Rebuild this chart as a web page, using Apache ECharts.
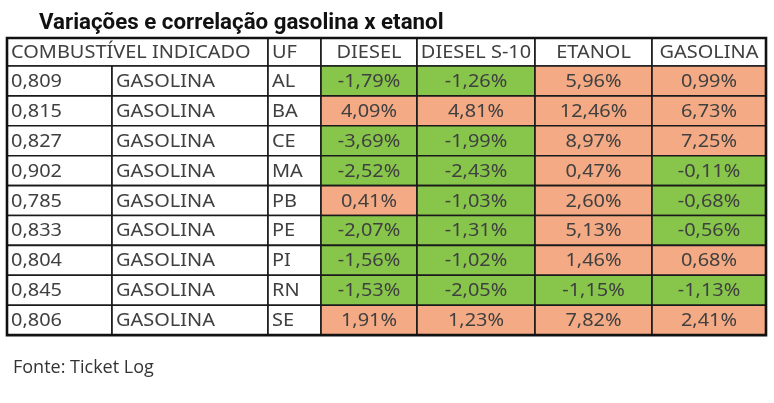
<!DOCTYPE html>
<html>
<head>
<meta charset="utf-8">
<script src="https://cdn.jsdelivr.net/npm/echarts@6/dist/echarts.min.js"></script>
<style>
html,body{margin:0;padding:0;background:#fff;}
#c{width:774px;height:403px;}
</style>
</head>
<body>
<div id="c"></div>
<script>
// ---- data ----
const title = 'Variações e correlação gasolina x etanol';
const source = 'Fonte: Ticket Log';
const headers = ['COMBUSTÍVEL INDICADO', 'UF', 'DIESEL', 'DIESEL S-10', 'ETANOL', 'GASOLINA'];
const ratio = ['0,809', '0,815', '0,827', '0,902', '0,785', '0,833', '0,804', '0,845', '0,806'];
const indicado = ['GASOLINA', 'GASOLINA', 'GASOLINA', 'GASOLINA', 'GASOLINA', 'GASOLINA', 'GASOLINA', 'GASOLINA', 'GASOLINA'];
const uf = ['AL', 'BA', 'CE', 'MA', 'PB', 'PE', 'PI', 'RN', 'SE'];
const diesel = [-1.79, 4.09, -3.69, -2.52, 0.41, -2.07, -1.56, -1.53, 1.91];
const dieselS10 = [-1.26, 4.81, -1.99, -2.43, -1.03, -1.31, -1.02, -2.05, 1.23];
const etanol = [5.96, 12.46, 8.97, 0.47, 2.60, 5.13, 1.46, -1.15, 7.82];
const gasolina = [0.99, 6.73, 7.25, -0.11, -0.68, -0.56, 0.68, -1.13, 2.41];

// ---- layout (table units) ----
const colEdges = [0, 105, 261, 314, 410, 528, 645, 759];
const headerH = 28;
const rowH = 29.9;
const tableH = headerH + rowH * uf.length;
const GREEN = '#87c64b';
const ORANGE = '#f4aa84';
const FONT = 'Noto Sans';
const TEXT_SCALE_X = 1.14;

function fmt(v) {
  return v.toFixed(2).replace('.', ',') + '%';
}

const cells = [];
const cellInfo = [];
function addCell(c0, c1, r, text, align, fill) {
  const y0 = r === 0 ? 0 : headerH + (r - 1) * rowH;
  const y1 = r === 0 ? headerH : headerH + r * rowH;
  cells.push([colEdges[c0], y0, colEdges[c1], y1]);
  cellInfo.push({ text: text, align: align, fill: fill });
}
addCell(0, 2, 0, headers[0], 'left', '#fff');
addCell(2, 3, 0, headers[1], 'left', '#fff');
addCell(3, 4, 0, headers[2], 'center', '#fff');
addCell(4, 5, 0, headers[3], 'center', '#fff');
addCell(5, 6, 0, headers[4], 'center', '#fff');
addCell(6, 7, 0, headers[5], 'center', '#fff');
const valueCols = [diesel, dieselS10, etanol, gasolina];
for (let i = 0; i < uf.length; i++) {
  const r = i + 1;
  addCell(0, 1, r, ratio[i], 'left', '#fff');
  addCell(1, 2, r, indicado[i], 'left', '#fff');
  addCell(2, 3, r, uf[i], 'left', '#fff');
  valueCols.forEach(function (arr, k) {
    addCell(3 + k, 4 + k, r, fmt(arr[i]), 'center', arr[i] < 0 ? GREEN : ORANGE);
  });
}

const chart = echarts.init(document.getElementById('c'), null, { renderer: 'canvas' });
chart.setOption({
  backgroundColor: '#fff',
  animation: false,
  title: [{
    text: title,
    left: 34, top: 7,
    textStyle: { fontFamily: 'Roboto', fontWeight: 'bold', fontSize: 22.3, color: '#111' }
  }, {
    text: source,
    left: 8, top: 354,
    textStyle: { fontFamily: 'Open Sans', fontWeight: 'normal', fontSize: 18, color: '#333' }
  }],
  grid: { left: 7, top: 38, width: colEdges[colEdges.length - 1], height: tableH },
  xAxis: { type: 'value', min: 0, max: colEdges[colEdges.length - 1], show: false },
  yAxis: { type: 'value', min: 0, max: tableH, inverse: true, show: false },
  series: [{
    type: 'custom',
    coordinateSystem: 'cartesian2d',
    data: cells,
    encode: { x: [0, 2], y: [1, 3] },
    renderItem: function (params, api) {
      const p0 = api.coord([api.value(0), api.value(1)]);
      const p1 = api.coord([api.value(2), api.value(3)]);
      const info = cellInfo[params.dataIndex];
      const w = p1[0] - p0[0], h = p1[1] - p0[1];
      return {
        type: 'group',
        children: [{
          type: 'rect',
          shape: { x: p0[0], y: p0[1], width: w, height: h },
          style: { fill: info.fill, stroke: '#1a1a1a', lineWidth: 1.6 }
        }, {
          type: 'text',
          x: info.align === 'left' ? p0[0] + 4 : p0[0] + w / 2,
          y: p0[1] + h / 2 + 1,
          scaleX: TEXT_SCALE_X,
          style: {
            text: info.text,
            x: 0, y: 0,
            align: info.align,
            verticalAlign: 'middle',
            fontFamily: FONT,
            fontSize: 17.5,
            fontWeight: 'normal',
            fill: '#404040'
          }
        }]
      };
    }
  }, {
    type: 'custom',
    coordinateSystem: 'cartesian2d',
    data: [[0, 0, colEdges[colEdges.length - 1], tableH]],
    z: 5,
    renderItem: function (params, api) {
      const p0 = api.coord([api.value(0), api.value(1)]);
      const p1 = api.coord([api.value(2), api.value(3)]);
      return {
        type: 'rect',
        shape: { x: p0[0], y: p0[1], width: p1[0] - p0[0], height: p1[1] - p0[1] },
        style: { fill: 'none', stroke: '#111', lineWidth: 2.6 }
      };
    }
  }]
});
</script>
</body>
</html>
